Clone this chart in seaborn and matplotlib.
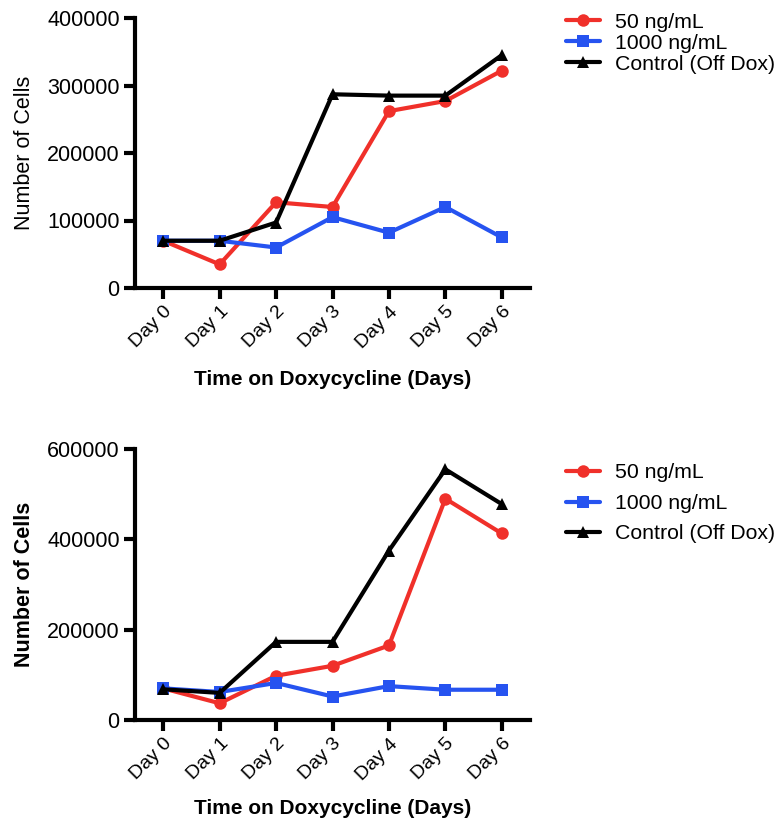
import matplotlib
matplotlib.use('Agg')
import matplotlib.pyplot as plt
import seaborn as sns
import pandas as pd

days = ['Day 0', 'Day 1', 'Day 2', 'Day 3', 'Day 4', 'Day 5', 'Day 6']
groups = ['50 ng/mL', '1000 ng/mL', 'Control (Off Dox)']

# top panel
top_50 = [70000, 35000, 127000, 120000, 262000, 277000, 322000]
top_1000 = [70000, 70000, 60000, 105000, 82000, 120000, 75000]
top_ctrl = [70000, 70000, 97000, 287000, 285000, 285000, 345000]

# bottom panel
bot_50 = [70000, 37000, 98000, 120000, 165000, 490000, 413000]
bot_1000 = [70000, 62000, 82000, 52000, 75000, 67000, 67000]
bot_ctrl = [68000, 60000, 173000, 173000, 375000, 555000, 478000]

colors = {'50 ng/mL': '#f0302a', '1000 ng/mL': '#2653f0', 'Control (Off Dox)': '#000000'}
markers = {'50 ng/mL': 'o', '1000 ng/mL': 's', 'Control (Off Dox)': '^'}


def make_df(series):
    rows = []
    for g, vals in zip(groups, series):
        for i, v in enumerate(vals):
            rows.append({'Day': i, 'Cells': v, 'Group': g})
    return pd.DataFrame(rows)


sns.set_style('ticks')
plt.rcParams['font.family'] = ['Liberation Sans', 'DejaVu Sans']
plt.rcParams['text.color'] = 'black'
plt.rcParams['xtick.color'] = 'black'
plt.rcParams['ytick.color'] = 'black'
plt.rcParams['axes.labelcolor'] = 'black'
plt.rcParams['axes.edgecolor'] = 'black'

fig = plt.figure(figsize=(7.8, 8.23), dpi=100)
W, H = 780, 823
ax1 = fig.add_axes([135 / W, 1 - 288 / H, 395 / W, 270 / H])
ax2 = fig.add_axes([135 / W, 1 - 720 / H, 395 / W, 271 / H])


def draw(ax, series, ymax, ystep, bold_ylabel, legend_top, spacing, xlab_y):
    df = make_df(series)
    sns.lineplot(data=df, x='Day', y='Cells', hue='Group', style='Group',
                 palette=colors, markers=markers, dashes=False, ax=ax,
                 linewidth=3, markersize=9, markeredgewidth=0)
    ax.set_xlim(-0.5, 6.5)
    ax.set_ylim(0, ymax)
    ax.set_yticks(range(0, ymax + 1, ystep))
    ax.set_yticklabels([str(v) for v in range(0, ymax + 1, ystep)], fontsize=15.5)
    ax.set_xticks(range(len(days)))
    ax.set_xticklabels(days, rotation=45, ha='right', rotation_mode='anchor', fontsize=14)
    for s in ['left', 'bottom']:
        ax.spines[s].set_linewidth(3)
    sns.despine(ax=ax)
    ax.tick_params(width=3, length=8, pad=3)
    ax.set_xlabel('Time on Doxycycline (Days)', fontsize=15, fontweight='bold')
    ax.set_ylabel('Number of Cells', fontsize=15.5,
                  fontweight='bold' if bold_ylabel else 'normal')
    ax.yaxis.set_label_coords(-0.28, 0.5)
    ax.xaxis.set_label_coords(0.5, xlab_y)
    ax.xaxis.label.set_va('center')
    ax.yaxis.label.set_va('center')
    h, l = ax.get_legend_handles_labels()
    ax.legend(h, l, loc='upper left', bbox_to_anchor=(566 / W, 1 - legend_top / H),
              bbox_transform=fig.transFigure, frameon=False, fontsize=15.3,
              handlelength=1.6, handletextpad=0.72, labelspacing=spacing,
              borderaxespad=0, borderpad=0)


draw(ax1, [top_50, top_1000, top_ctrl], 400000, 100000, False, 12.5, 0.1, -0.34)
draw(ax2, [bot_50, bot_1000, bot_ctrl], 600000, 200000, True, 463.5, 0.54, -0.325)

fig.savefig('out.png', dpi=100)
